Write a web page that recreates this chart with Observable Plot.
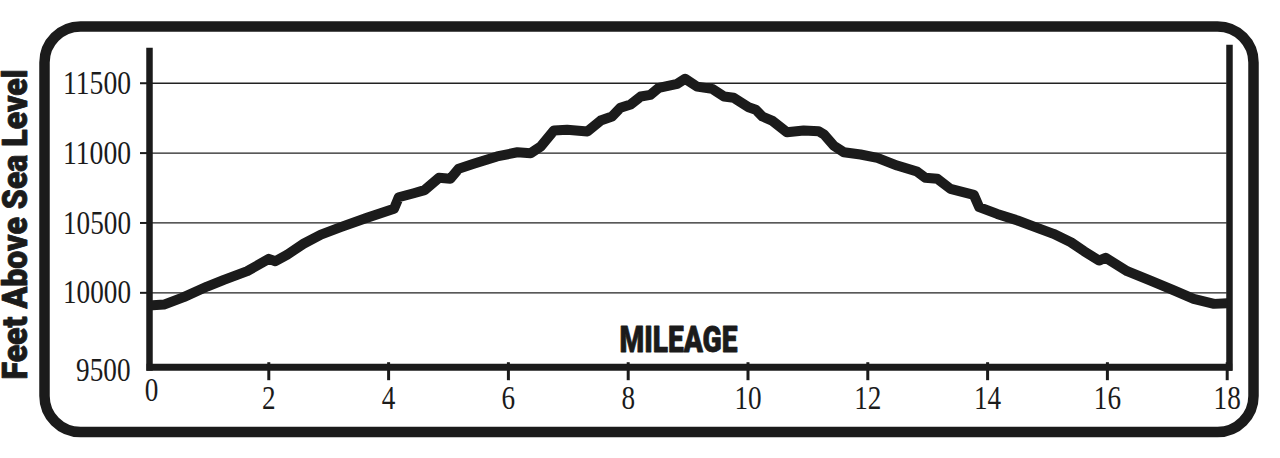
<!DOCTYPE html>
<html>
<head>
<meta charset="utf-8">
<script src="https://cdn.jsdelivr.net/npm/d3@7"></script>
<script src="https://cdn.jsdelivr.net/npm/@observablehq/plot@0.6"></script>
<style>
  html, body { margin: 0; padding: 0; background: #fff; }
  #chart svg { display: block; }
</style>
</head>
<body>
<div id="chart"></div>
<script>
// Trail elevation profile (miles vs feet above sea level)
const miles = [0, 0.25, 0.58, 0.97, 1.25, 1.64, 2.0, 2.11, 2.31, 2.58, 2.87, 3.2, 3.64, 4.09, 4.17, 4.42, 4.6, 4.84, 5.03, 5.17, 5.42, 5.81, 6.15, 6.37, 6.54, 6.76, 6.98, 7.32, 7.54, 7.73, 7.87, 8.04, 8.21, 8.37, 8.51, 8.82, 8.95, 9.15, 9.4, 9.6, 9.76, 10.01, 10.13, 10.24, 10.4, 10.65, 10.93, 11.18, 11.27, 11.43, 11.6, 11.88, 12.16, 12.49, 12.82, 12.96, 13.16, 13.38, 13.77, 13.86, 14.16, 14.5, 14.83, 15.1, 15.39, 15.61, 15.86, 15.97, 16.33, 16.72, 17.11, 17.44, 17.78, 18.0];
const elevation = [9910, 9916, 9969, 10045, 10093, 10155, 10243, 10226, 10274, 10351, 10417, 10470, 10537, 10601, 10684, 10713, 10735, 10823, 10816, 10888, 10923, 10976, 11006, 10999, 11047, 11162, 11167, 11155, 11233, 11262, 11324, 11348, 11405, 11417, 11467, 11496, 11532, 11476, 11460, 11405, 11396, 11328, 11310, 11262, 11233, 11149, 11162, 11157, 11133, 11054, 11006, 10990, 10966, 10911, 10868, 10823, 10816, 10744, 10701, 10613, 10565, 10518, 10465, 10422, 10362, 10298, 10231, 10251, 10155, 10088, 10017, 9957, 9921, 9926];
const xTicks = [2, 4, 6, 8, 10, 12, 14, 16, 18];
const xFirstTick = [0];
const yTicks = [10000, 10500, 11000, 11500];
const yFirstTick = [9500];
const yTitle = "Feet Above Sea Level";
const xTitle = "MILEAGE";

const data = miles.map((m, i) => ({mile: m, ft: elevation[i]}));

const ink = "#1b1b1b";
const serif = "'Liberation Serif', 'Times New Roman', serif";
const heavy = "'Liberation Sans Narrow', 'Roboto', 'Liberation Sans', sans-serif";
const fmt = d => `${d}`;

const chart = Plot.plot({
  width: 1280,
  height: 458,
  marginLeft: 148.5,
  marginRight: 53.3,
  marginTop: 47.8,
  marginBottom: 95.8,
  style: {background: "#fff", color: ink},
  x: {domain: [0, 18]},
  y: {domain: [9500, 11750]},
  marks: [
    Plot.ruleY(yTicks, {stroke: "#222", strokeWidth: 1.3}),
    Plot.axisY(yTicks, {tickSize: 8.5, tickPadding: 9.5, strokeWidth: 2, fontSize: 33, fontFamily: serif, tickFormat: fmt, label: null, color: ink}),
    Plot.axisY(yFirstTick, {tickSize: 0, tickPadding: 18.5, dy: 7.5, fontSize: 33, fontFamily: serif, tickFormat: fmt, label: null, color: ink}),
    Plot.axisX(xTicks, {tickSize: 18, tickPadding: 4.4, strokeWidth: 3, fontSize: 33, fontFamily: serif, tickFormat: fmt, label: null, color: ink}),
    Plot.axisX(xFirstTick, {tickSize: 0, tickPadding: 15, dx: 2.5, fontSize: 33, fontFamily: serif, tickFormat: fmt, label: null, color: ink}),
    Plot.ruleX([0], {stroke: ink, strokeWidth: 6.5, dx: 0.5, insetBottom: -8.5}),
    Plot.ruleX([18], {stroke: ink, strokeWidth: 6.5, dx: 2.3, insetTop: -3, insetBottom: -8.5}),
    Plot.ruleY([9500], {stroke: ink, strokeWidth: 7, dy: 4.5, insetLeft: -2, insetRight: -5.5}),
    Plot.line(data, {x: "mile", y: "ft", stroke: ink, strokeWidth: 10, strokeLinejoin: "round", strokeLinecap: "butt"}),
    Plot.text([yTitle], {frameAnchor: "left", textAnchor: "middle", lineAnchor: "middle", rotate: -90, dx: -133, dy: 19, fontSize: 35, fontWeight: 900, fontFamily: heavy, fill: ink, stroke: ink, strokeWidth: 0.8, ariaLabel: "y-title"}),
    Plot.text([xTitle], {frameAnchor: "bottom", dx: -9.6, dy: -22.7, lineAnchor: "middle", fontSize: 36, fontWeight: 900, fontFamily: heavy, fill: ink, stroke: ink, strokeWidth: 0.8, ariaLabel: "x-title"})
  ]
});

const svg = d3.select(chart);
// condensed digit widths like the original typeface
svg.selectAll('[aria-label$="tick label"] text').each(function() {
  const t = this.textContent;
  this.setAttribute("textLength", t.length * 13.6);
  this.setAttribute("lengthAdjust", "spacingAndGlyphs");
});
svg.selectAll("text").each(function() {
  const t = this.textContent;
  if (t === yTitle) { this.setAttribute("textLength", 310); this.setAttribute("lengthAdjust", "spacingAndGlyphs"); }
  if (t === xTitle) { this.setAttribute("textLength", 118); this.setAttribute("lengthAdjust", "spacingAndGlyphs"); }
});
// rounded outer border
svg.append("rect")
  .attr("x", 44.5).attr("y", 26.5)
  .attr("width", 1209).attr("height", 405.5)
  .attr("rx", 36).attr("ry", 36)
  .attr("fill", "none").attr("stroke", ink).attr("stroke-width", 10.5);

document.getElementById("chart").append(chart);
</script>
</body>
</html>
